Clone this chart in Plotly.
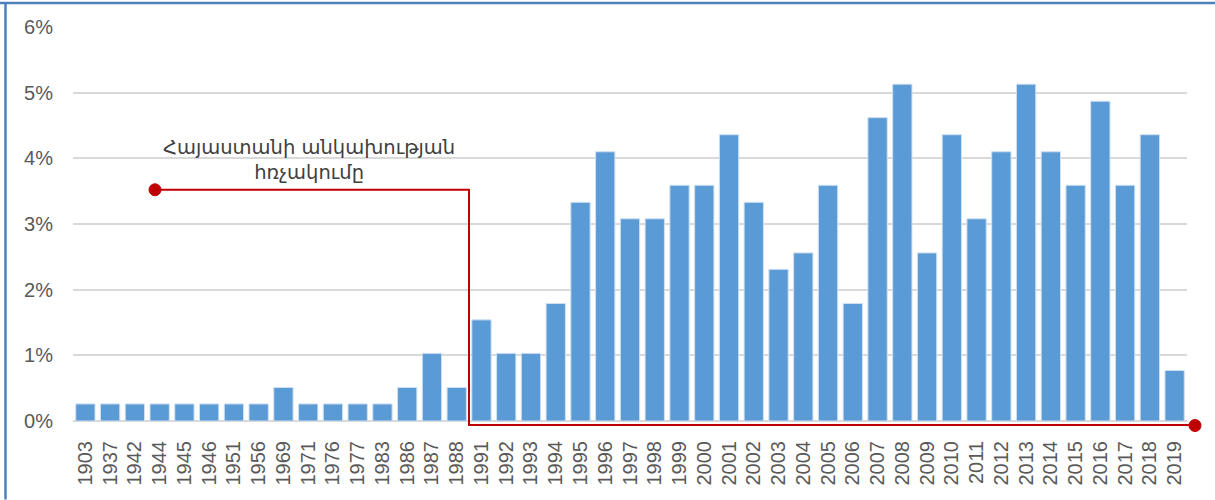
import plotly.graph_objects as go

years = ["1903", "1937", "1942", "1944", "1945", "1946", "1951", "1956", "1969", "1971",
         "1976", "1977", "1983", "1986", "1987", "1988", "1991", "1992", "1993", "1994",
         "1995", "1996", "1997", "1998", "1999", "2000", "2001", "2002", "2003", "2004",
         "2005", "2006", "2007", "2008", "2009", "2010", "2011", "2012", "2013", "2014",
         "2015", "2016", "2017", "2018", "2019"]
share_pct = [0.26, 0.26, 0.26, 0.26, 0.26, 0.26, 0.26, 0.26, 0.51, 0.26,
             0.26, 0.26, 0.26, 0.51, 1.03, 0.51, 1.54, 1.03, 1.03, 1.79,
             3.33, 4.10, 3.08, 3.08, 3.59, 3.59, 4.36, 3.33, 2.31, 2.56,
             3.59, 1.79, 4.62, 5.13, 2.56, 4.36, 3.08, 4.10, 5.13, 4.10,
             3.59, 4.87, 3.59, 4.36, 0.77]
y_ticks = [0, 1, 2, 3, 4, 5, 6]
y_tick_labels = ["0%", "1%", "2%", "3%", "4%", "5%", "6%"]
note_text = "Հայաստանի անկախության<br>հռչակումը"

RED = "#c00000"
FONT = "Liberation Sans, Arial, DejaVu Sans, sans-serif"

fig = go.Figure()
fig.add_trace(go.Bar(
    x=years, y=share_pct,
    marker=dict(color="#5b9bd5", line=dict(color="#cfe0f3", width=1)),
    hoverinfo="x+y",
))

shapes = [
    # white patch behind the note (covers gridline only)
    dict(type="rect", xref="paper", yref="paper", layer="between",
         x0=(140 - 73) / 1114, x1=(478 - 73) / 1114,
         y0=(421.5 - 185) / 394.5, y1=(421.5 - 125) / 394.5,
         fillcolor="white", line=dict(width=0)),
    # red bracket path
    dict(type="path", xref="paper", yref="paper", layer="above",
         path="M {a},{b} L {c},{b} L {c},{d} L {e},{d}".format(
             a=(155 - 73) / 1114, b=(421.5 - 190) / 394.5,
             c=(469 - 73) / 1114, d=(421.5 - 425.5) / 394.5,
             e=(1195 - 73) / 1114),
         line=dict(color=RED, width=2)),
    dict(type="circle", xref="paper", yref="paper", layer="above",
         x0=(149 - 73) / 1114, x1=(161 - 73) / 1114,
         y0=(421.5 - 196) / 394.5, y1=(421.5 - 184) / 394.5,
         fillcolor=RED, line=dict(color=RED, width=1)),
    dict(type="circle", xref="paper", yref="paper", layer="above",
         x0=(1189 - 73) / 1114, x1=(1201 - 73) / 1114,
         y0=(421.5 - 432) / 394.5, y1=(421.5 - 420) / 394.5,
         fillcolor=RED, line=dict(color=RED, width=1)),
    # outer blue frame (top and left edges)
    dict(type="line", xref="paper", yref="paper", layer="above",
         x0=(0 - 73) / 1114, x1=(1215 - 73) / 1114,
         y0=(421.5 - 3) / 394.5, y1=(421.5 - 3) / 394.5,
         line=dict(color="#4f81bd", width=2.5)),
    dict(type="line", xref="paper", yref="paper", layer="above",
         x0=(5.5 - 73) / 1114, x1=(5.5 - 73) / 1114,
         y0=(421.5 - 2) / 394.5, y1=(421.5 - 500) / 394.5,
         line=dict(color="#4f81bd", width=2.5)),
]

fig.update_layout(
    width=1215, height=500,
    margin=dict(l=73, r=28, t=27, b=78.5, autoexpand=False),
    paper_bgcolor="white", plot_bgcolor="white",
    font=dict(family=FONT, color="#595959", size=20),
    bargap=0.22,
    showlegend=False,
    shapes=shapes,
    annotations=[dict(
        xref="paper", yref="paper",
        x=(309 - 73) / 1114, y=(421.5 - 160) / 394.5,
        text=note_text, showarrow=False,
        xanchor="center", yanchor="middle", align="center",
        font=dict(family="DejaVu Sans, sans-serif", size=19.5, color="#404040"),
    )],
    xaxis=dict(
        type="category", tickangle=-90,
        ticks="outside", ticklen=11, tickcolor="rgba(0,0,0,0)",
        showgrid=False, showline=False, automargin=False,
        tickfont=dict(size=20, color="#595959"),
    ),
    yaxis=dict(
        range=[0, 6], tickmode="array", tickvals=y_ticks, ticktext=y_tick_labels,
        showgrid=True, gridcolor="#d9d9d9", gridwidth=2,
        zeroline=True, zerolinecolor="#d9d9d9", zerolinewidth=2,
        ticks="outside", ticklen=15, tickcolor="rgba(0,0,0,0)",
        showline=False, automargin=False,
        tickfont=dict(size=20, color="#595959"),
    ),
)

fig.write_html("out.html",
               config={"displayModeBar": False},
               post_script="document.body.style.margin='0';document.body.style.overflow='hidden';")
